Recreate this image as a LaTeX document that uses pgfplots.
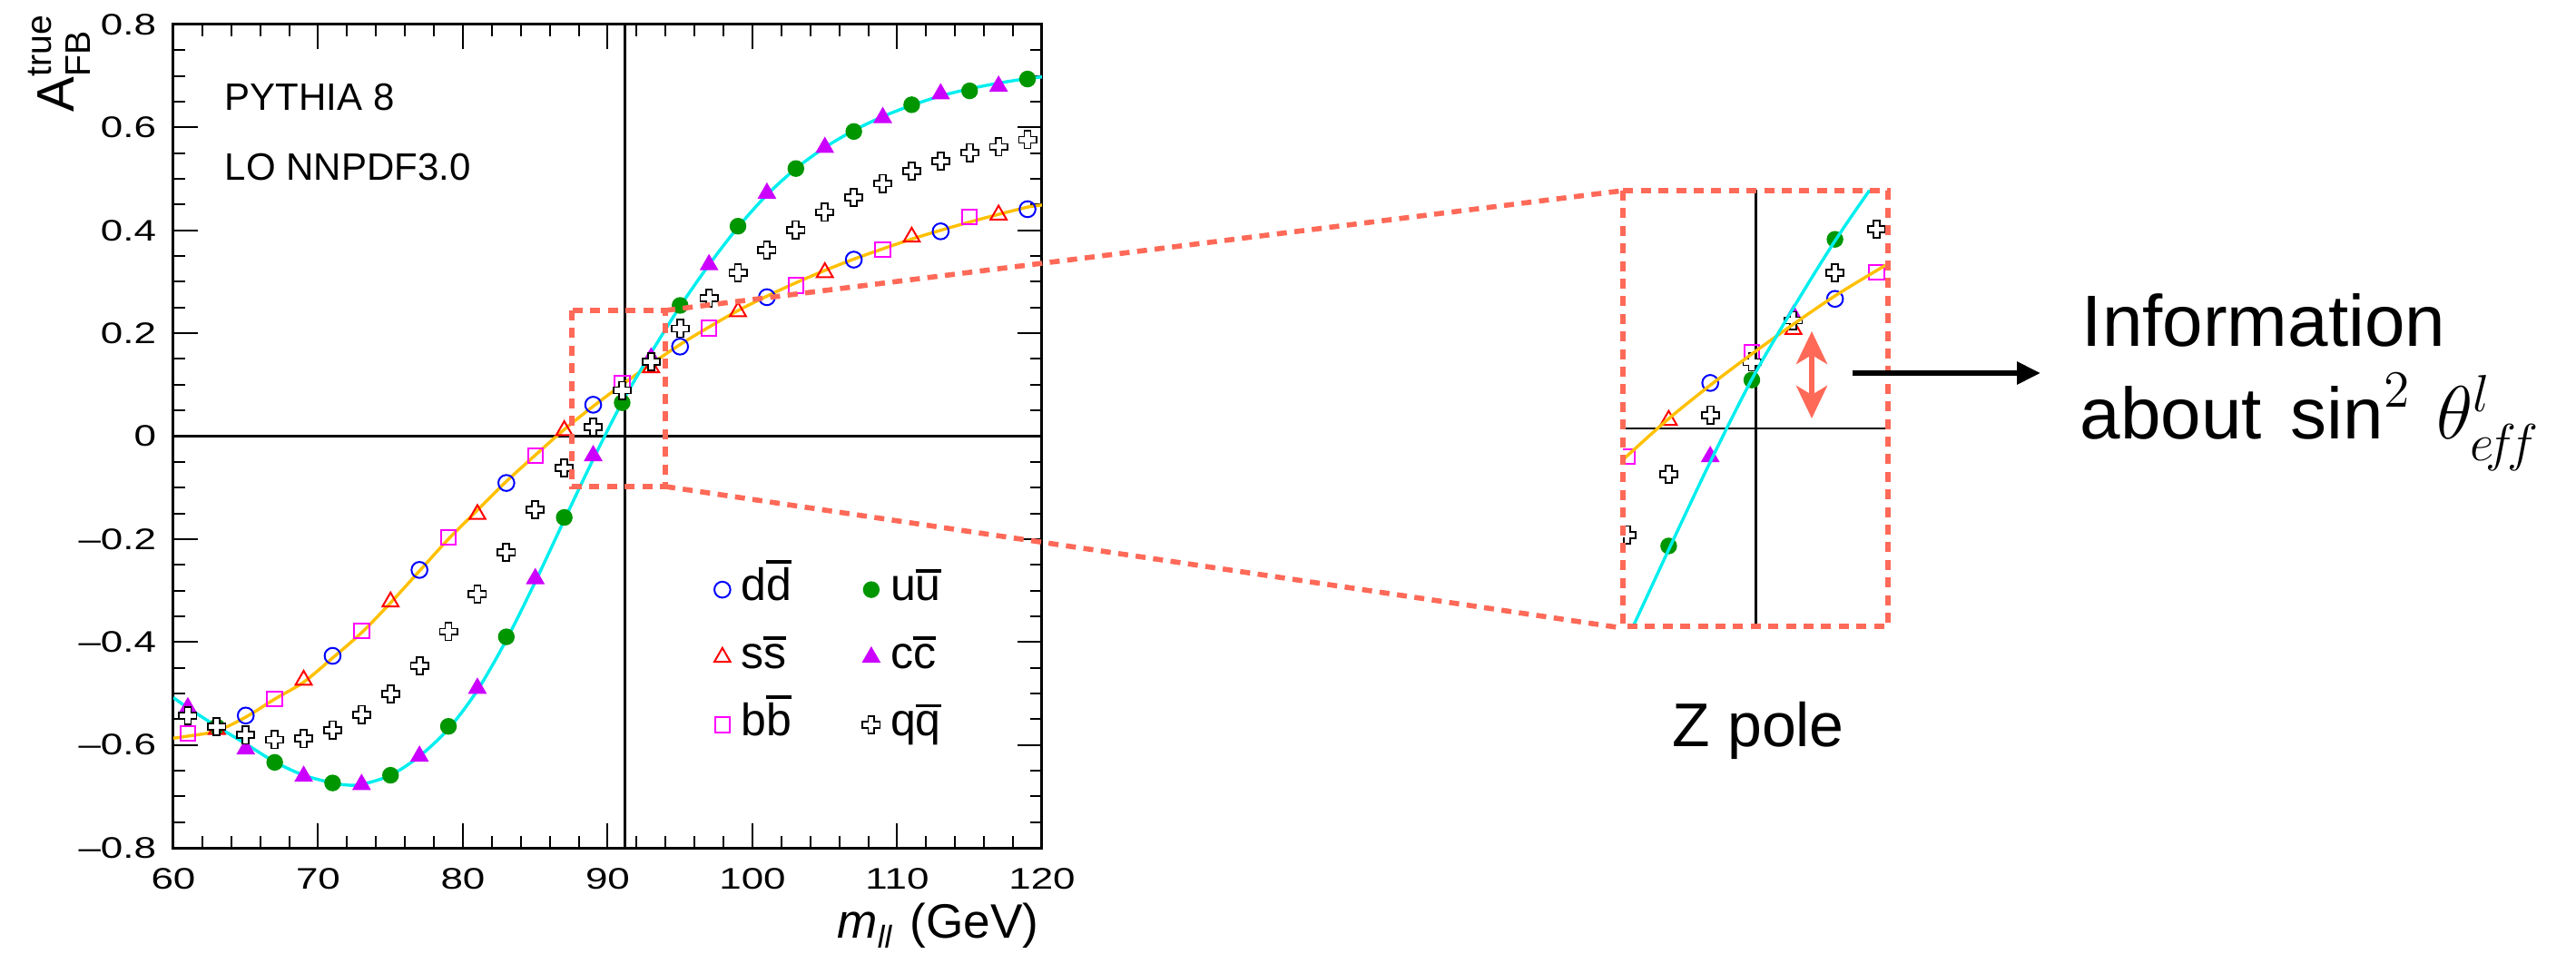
\documentclass[border=0pt]{standalone}
\usepackage{fontspec}
\setmainfont{Liberation Sans}
\usepackage{amsmath}
\usepackage{pgfplots}
\usepackage{pgfplotstable}
\pgfplotsset{compat=1.18}
\usetikzlibrary{arrows.meta}

\definecolor{ddblue}{RGB}{0,0,255}
\definecolor{uugreen}{RGB}{0,150,0}
\definecolor{ssred}{RGB}{255,0,0}
\definecolor{ccviolet}{RGB}{204,0,255}
\definecolor{bbmagenta}{RGB}{255,0,255}
\definecolor{fitcyan}{RGB}{0,238,238}
\definecolor{fitgold}{RGB}{255,192,0}
\definecolor{zoomred}{RGB}{255,105,88}

% antiquark bar over a letter
\newcommand{\anti}[1]{\setbox0=\hbox{#1}\rlap{\raisebox{\dimexpr\ht0+1.1pt\relax}{\rule{\wd0}{0.9pt}}}\box0}

% open cross marker (outline of a plus sign)
\pgfdeclareplotmark{opencross}{%
  \pgfpathmoveto{\pgfpoint{-0.36\pgfplotmarksize}{\pgfplotmarksize}}%
  \pgfpathlineto{\pgfpoint{0.36\pgfplotmarksize}{\pgfplotmarksize}}%
  \pgfpathlineto{\pgfpoint{0.36\pgfplotmarksize}{0.36\pgfplotmarksize}}%
  \pgfpathlineto{\pgfpoint{\pgfplotmarksize}{0.36\pgfplotmarksize}}%
  \pgfpathlineto{\pgfpoint{\pgfplotmarksize}{-0.36\pgfplotmarksize}}%
  \pgfpathlineto{\pgfpoint{0.36\pgfplotmarksize}{-0.36\pgfplotmarksize}}%
  \pgfpathlineto{\pgfpoint{0.36\pgfplotmarksize}{-\pgfplotmarksize}}%
  \pgfpathlineto{\pgfpoint{-0.36\pgfplotmarksize}{-\pgfplotmarksize}}%
  \pgfpathlineto{\pgfpoint{-0.36\pgfplotmarksize}{-0.36\pgfplotmarksize}}%
  \pgfpathlineto{\pgfpoint{-\pgfplotmarksize}{-0.36\pgfplotmarksize}}%
  \pgfpathlineto{\pgfpoint{-\pgfplotmarksize}{0.36\pgfplotmarksize}}%
  \pgfpathlineto{\pgfpoint{-0.36\pgfplotmarksize}{0.36\pgfplotmarksize}}%
  \pgfpathclose
  \pgfusepathqfillstroke
}

\pgfplotsset{
  ddmarks/.style={only marks, mark=o, mark size=2.2pt, color=ddblue, mark options={line width=0.5pt}},
  uumarks/.style={only marks, mark=*, mark size=2.1pt, color=uugreen, mark options={draw=uugreen, fill=uugreen}},
  ssmarks/.style={only marks, mark=triangle, mark size=2.55pt, color=ssred, mark options={line width=0.5pt}},
  ccmarks/.style={only marks, mark=triangle*, mark size=2.6pt, color=ccviolet, mark options={draw=ccviolet, fill=ccviolet}},
  bbmarks/.style={only marks, mark=square, mark size=2.05pt, color=bbmagenta, mark options={line width=0.5pt}},
  qqmarks/.style={only marks, mark=opencross, mark size=2.4pt, color=black, mark options={draw=black, fill=white, line width=0.45pt}},
  cyanfit/.style={fitcyan, line width=0.85pt, smooth, no markers},
  goldfit/.style={fitgold, line width=0.85pt, smooth, no markers},
  refline/.style={black, line width=0.6pt, no markers},
}
\tikzset{zoomdash/.style={zoomred, line width=1.4pt, dash pattern=on 2.75pt off 2.1pt}}

% A_FB vs m_ll for each quark flavour
\pgfplotstableread{
x y
65 -0.543
71 -0.427
77 -0.260
83 -0.091
89 0.061
95 0.174
101 0.270
107 0.343
113 0.398
119 0.441
}\ddtab
\pgfplotstableread{
x y
63 -0.565
67 -0.634
71 -0.674
75 -0.659
79 -0.564
83 -0.390
87 -0.158
91 0.065
95 0.254
99 0.408
103 0.520
107 0.592
111 0.644
115 0.671
119 0.694
}\uutab
\pgfplotstableread{
x y
63 -0.570
69 -0.474
75 -0.322
81 -0.152
87 0.011
93 0.133
99 0.242
105 0.318
111 0.387
117 0.430
}\sstab
\pgfplotstableread{
x y
61 -0.528
65 -0.608
69 -0.661
73 -0.677
77 -0.622
81 -0.490
85 -0.277
89 -0.038
93 0.152
97 0.333
101 0.472
105 0.561
109 0.619
113 0.665
117 0.680
}\cctab
\pgfplotstableread{
x y
61 -0.578
67 -0.511
73 -0.378
79 -0.197
85 -0.038
91 0.102
97 0.210
103 0.293
109 0.362
115 0.426
}\bbtab
\pgfplotstableread{
x y
61 -0.543
63 -0.565
65 -0.581
67 -0.590
69 -0.588
71 -0.571
73 -0.541
75 -0.501
77 -0.446
79 -0.380
81 -0.307
83 -0.226
85 -0.143
87 -0.062
89 0.018
91 0.089
93 0.145
95 0.209
97 0.268
99 0.318
101 0.362
103 0.401
105 0.435
107 0.464
109 0.491
111 0.515
113 0.534
115 0.551
117 0.562
119 0.576
}\qqtab
% fitted curves: up-type (u, c) and down-type (d, s, b)
\pgfplotstableread{
x y
60 -0.508
61 -0.528
63 -0.564
65 -0.598
67 -0.633
69 -0.659
71 -0.674
72 -0.678
73 -0.677
75 -0.659
77 -0.622
79 -0.569
81 -0.494
83 -0.396
85 -0.283
87 -0.163
89 -0.045
91 0.066
93 0.162
95 0.252
97 0.333
99 0.406
101 0.469
103 0.520
105 0.561
107 0.594
109 0.621
111 0.643
113 0.661
115 0.675
117 0.686
119 0.695
120 0.698
}\uptab
\pgfplotstableread{
x y
60 -0.587
61 -0.583
63 -0.573
65 -0.546
67 -0.511
69 -0.478
71 -0.431
73 -0.382
75 -0.324
77 -0.262
79 -0.200
81 -0.144
83 -0.088
85 -0.037
87 0.013
89 0.058
91 0.100
93 0.140
95 0.178
97 0.212
99 0.244
101 0.272
103 0.298
105 0.322
107 0.344
109 0.364
111 0.383
113 0.400
115 0.416
117 0.431
119 0.445
120 0.449
}\downtab

\begin{document}
\begin{tikzpicture}
\useasboundingbox (0,0) rectangle (709.5pt,262.5pt);

\begin{axis}[
  at={(47.75pt,29pt)}, anchor=south west,
  scale only axis, width=239.25pt, height=226.75pt,
  xmin=60, xmax=120, ymin=-0.8, ymax=0.8,
  xtick={60,70,...,120},
  ytick={-0.8,-0.6,-0.4,-0.2,0,0.2,0.4,0.6,0.8},
  yticklabels={--0.8,--0.6,--0.4,--0.2,0,0.2,0.4,0.6,0.8},
  minor x tick num=4, minor y tick num=3,
  tick align=inside,
  major tick length=6.75pt, minor tick length=3.25pt,
  axis line style={line width=0.75pt},
  every tick/.style={black, line width=0.5pt},
  tick label style={font=\fontsize{8.2}{9}\selectfont, xscale=1.34},
  xticklabel style={yshift=-2.2pt},
  /pgf/number format/assume math mode=true,
  legend columns=2, legend cell align=left,
  legend image code/.code={\draw[#1] plot coordinates {(0pt,0pt)};},
  legend style={at={(0.6228,0.3400)}, anchor=north west,
    draw=none, fill=none, inner sep=0pt, outer sep=0pt,
    font=\fontsize{12.5}{14}\selectfont,
    row sep=6.6pt, column sep=2.9pt,
    /tikz/every even column/.append style={column sep=19.6pt},
    nodes={inner sep=0pt, text height=9pt, text depth=3pt}},
]
\addplot[refline, forget plot] coordinates {(91.19,-0.8) (91.19,0.8)};
\addplot[refline, forget plot] coordinates {(60,0) (120,0)};

\addplot[ddmarks] table {\ddtab};
\addlegendentry{d\anti{d}}
\addplot[uumarks] table {\uutab};
\addlegendentry{u\anti{u}}
\addplot[ssmarks] table {\sstab};
\addlegendentry{s\anti{s}}
\addplot[ccmarks] table {\cctab};
\addlegendentry{c\anti{c}}
\addplot[bbmarks] table {\bbtab};
\addlegendentry{b\anti{b}}
\addplot[qqmarks] table {\qqtab};
\addlegendentry{q\anti{q}}

\addplot[goldfit, forget plot] table {\downtab};
\addplot[cyanfit, forget plot] table {\uptab};
\end{axis}

% magnified view around the Z pole
\begin{axis}[
  at={(447pt,90pt)}, anchor=south west,
  scale only axis, width=73pt, height=120pt,
  xmin=84.8, xmax=97.55, ymin=-0.266, ymax=0.3195,
  hide axis, clip marker paths=true,
]
\addplot[refline] coordinates {(91.19,-0.3) (91.19,0.4)};
\addplot[refline] coordinates {(84,0) (98,0)};
\addplot[ddmarks] table {\ddtab};
\addplot[uumarks] table {\uutab};
\addplot[ssmarks] table {\sstab};
\addplot[ccmarks] table {\cctab};
\addplot[bbmarks] table {\bbtab};
\addplot[qqmarks] table {\qqtab};
\addplot[goldfit] table {\downtab};
\addplot[cyanfit] table {\uptab};
\end{axis}

\begin{scope}[x=0.25pt, y=-0.25pt, yshift=262.5pt]
  % zoom box and its projection
  \draw[zoomdash] (630,342) rectangle (733,536);
  \draw[zoomdash] (733,342) -- (1788,210);
  \draw[zoomdash] (733,536) -- (1788,692);
  \draw[zoomdash] (1788,210) rectangle (2080,690);

  \draw[zoomred, line width=1.5pt,
        {Stealth[length=9pt,width=8.5pt,inset=2.5pt]}-{Stealth[length=9pt,width=8.5pt,inset=2.5pt]}]
        (1996,365) -- (1996,461);
  \draw[black, line width=1.5pt, -{Triangle[length=6.5pt,width=6pt]}] (2041,411) -- (2248,411);

  % axis titles
  \node[rotate=90, anchor=base west, inner sep=0pt] at (82,124)
    {\fontsize{14.5}{16}\selectfont A\rlap{\raisebox{6.4pt}{\fontsize{9.8}{10}\selectfont true}}\raisebox{-4.5pt}{\fontsize{9.8}{10}\selectfont FB}};
  \node[anchor=base east, inner sep=0pt] at (1145,1033)
    {\fontsize{13.3}{15}\selectfont\textit{m}\raisebox{-2.8pt}{\fontsize{8.7}{10}\selectfont\itshape ll}\hspace{5pt}(GeV)};

  % labels
  \node[anchor=base west, inner sep=0pt, font=\fontsize{10.5}{12}\selectfont] at (247,122) {PYTHIA 8};
  \node[anchor=base west, inner sep=0pt, font=\fontsize{10.5}{12}\selectfont] at (247,199) {LO NNPDF3.0};
  \node[anchor=base west, inner sep=0pt, font=\fontsize{17}{20}\selectfont] at (1842,823) {Z pole};
  \node[anchor=base west, inner sep=0pt, font=\fontsize{20}{24}\selectfont] at (2293,382) {Information};
  \node[anchor=base west, inner sep=0pt, font=\fontsize{20}{24}\selectfont] at (2291,484)
    {about\hspace{0.4em}$\sin^{2}\,\theta^{l}_{e\!f\!f}$};
\end{scope}
\end{tikzpicture}
\end{document}
